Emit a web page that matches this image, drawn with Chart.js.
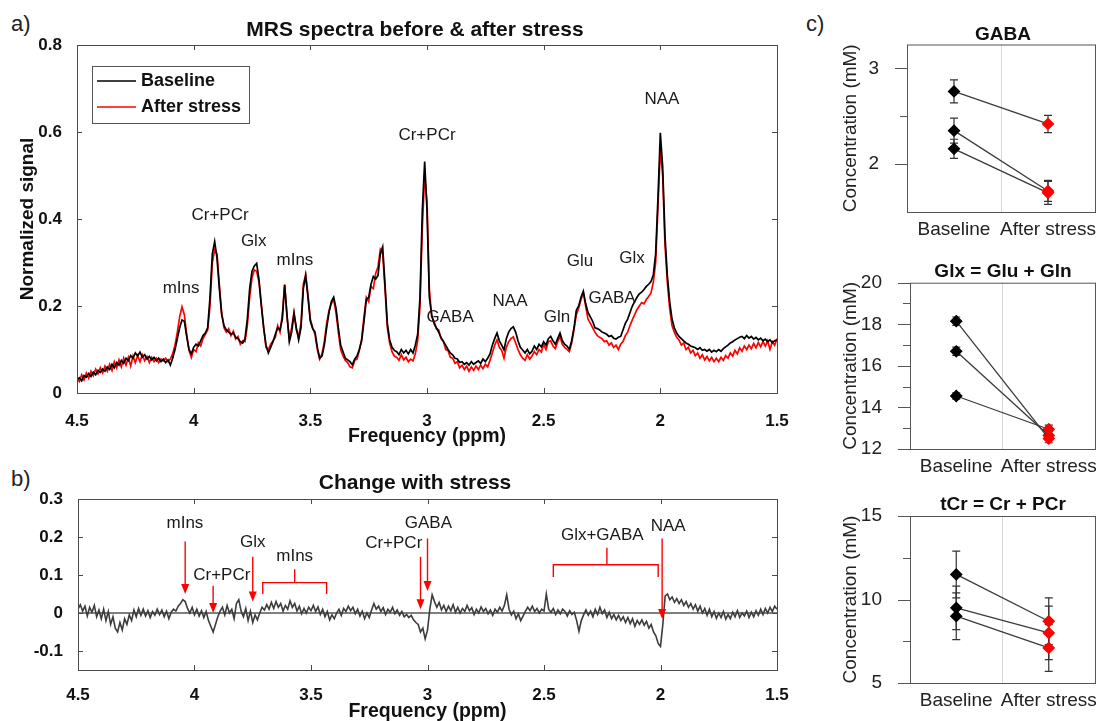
<!DOCTYPE html>
<html>
<head>
<meta charset="utf-8">
<title>MRS spectra</title>
<script src="https://cdn.jsdelivr.net/npm/chart.js@4.4.1/dist/chart.umd.min.js"></script>
<style>
  body { margin: 0; width: 1101px; height: 721px; overflow: hidden; background: #fff; position: relative; }
  canvas { position: absolute; }
  .tag { position: absolute; font: 22px/22px "Liberation Sans", Arial, sans-serif; color: #222; }
</style>
</head>
<body>
<div class="tag" style="left:11px;top:13px">a)</div>
<div class="tag" style="left:11px;top:468px">b)</div>
<div class="tag" style="left:806px;top:13px">c)</div>

<canvas id="spectra" width="830" height="455" style="left:0;top:0"></canvas>
<canvas id="change" width="830" height="261" style="left:0;top:460px"></canvas>
<canvas id="gaba" width="406" height="250" style="left:800px;top:0"></canvas>
<canvas id="glx" width="406" height="250" style="left:800px;top:240px"></canvas>
<canvas id="tcr" width="406" height="251" style="left:800px;top:470px"></canvas>

<script>
const FONT = '"Liberation Sans", Arial, sans-serif';

// spectra sampled every 0.01 ppm from 4.50 down to 1.50
const baseline = [
  0.030,0.035,0.028,0.040,0.036,0.045,0.038,0.048,0.042,0.052,
  0.047,0.055,0.050,0.060,0.054,0.066,0.058,0.070,0.064,0.075,
  0.068,0.080,0.074,0.086,0.080,0.092,0.085,0.094,0.082,0.088,
  0.078,0.084,0.076,0.082,0.074,0.080,0.072,0.078,0.070,0.076,
  0.064,0.080,0.100,0.125,0.150,0.168,0.165,0.130,0.100,0.090,
  0.105,0.112,0.108,0.120,0.132,0.138,0.150,0.220,0.320,0.348,
  0.310,0.240,0.180,0.155,0.145,0.140,0.135,0.138,0.128,0.125,
  0.118,0.115,0.125,0.170,0.240,0.280,0.292,0.298,0.260,0.200,
  0.150,0.110,0.092,0.105,0.118,0.135,0.150,0.145,0.170,0.248,
  0.180,0.118,0.140,0.183,0.150,0.122,0.150,0.240,0.270,0.220,
  0.165,0.148,0.140,0.105,0.080,0.085,0.110,0.150,0.185,0.210,
  0.220,0.195,0.150,0.110,0.095,0.080,0.076,0.072,0.065,0.078,
  0.085,0.100,0.120,0.165,0.215,0.220,0.250,0.268,0.262,0.270,
  0.320,0.336,0.250,0.160,0.122,0.105,0.098,0.095,0.088,0.100,
  0.092,0.098,0.090,0.100,0.092,0.110,0.135,0.220,0.420,0.532,
  0.420,0.220,0.180,0.160,0.150,0.140,0.128,0.118,0.110,0.100,
  0.092,0.088,0.080,0.078,0.070,0.072,0.066,0.070,0.064,0.072,
  0.066,0.070,0.074,0.068,0.078,0.072,0.080,0.090,0.110,0.125,
  0.138,0.120,0.110,0.099,0.125,0.140,0.148,0.152,0.140,0.120,
  0.105,0.099,0.092,0.100,0.090,0.096,0.108,0.100,0.112,0.106,
  0.118,0.110,0.125,0.130,0.120,0.112,0.125,0.138,0.120,0.112,
  0.108,0.100,0.120,0.150,0.190,0.200,0.220,0.234,0.205,0.185,
  0.175,0.165,0.150,0.148,0.145,0.140,0.138,0.135,0.130,0.132,
  0.126,0.124,0.128,0.130,0.145,0.160,0.170,0.185,0.200,0.210,
  0.220,0.228,0.232,0.238,0.245,0.250,0.256,0.272,0.320,0.450,
  0.598,0.520,0.360,0.270,0.210,0.170,0.150,0.138,0.130,0.125,
  0.120,0.115,0.112,0.108,0.106,0.104,0.100,0.104,0.098,0.100,
  0.096,0.100,0.094,0.098,0.095,0.100,0.096,0.102,0.106,0.110,
  0.115,0.118,0.122,0.125,0.128,0.130,0.125,0.132,0.126,0.130,
  0.124,0.128,0.122,0.126,0.120,0.124,0.118,0.122,0.116,0.120,
  0.122
];
const afterStress = [
  0.032,0.026,0.042,0.030,0.046,0.034,0.050,0.040,0.055,0.044,
  0.058,0.046,0.062,0.050,0.066,0.052,0.072,0.058,0.076,0.060,
  0.080,0.064,0.082,0.062,0.085,0.070,0.086,0.072,0.088,0.074,
  0.084,0.070,0.082,0.072,0.080,0.070,0.078,0.074,0.080,0.072,
  0.078,0.090,0.110,0.140,0.175,0.198,0.180,0.135,0.098,0.082,
  0.100,0.095,0.115,0.108,0.125,0.135,0.145,0.200,0.300,0.329,
  0.320,0.250,0.185,0.150,0.140,0.148,0.132,0.142,0.124,0.130,
  0.112,0.120,0.118,0.155,0.220,0.265,0.283,0.280,0.255,0.205,
  0.150,0.105,0.100,0.112,0.120,0.128,0.155,0.140,0.180,0.250,
  0.175,0.125,0.150,0.185,0.145,0.130,0.160,0.250,0.272,0.225,
  0.170,0.150,0.135,0.100,0.078,0.090,0.118,0.160,0.190,0.205,
  0.215,0.185,0.140,0.100,0.085,0.075,0.070,0.060,0.058,0.075,
  0.078,0.098,0.125,0.175,0.220,0.210,0.245,0.240,0.275,0.290,
  0.330,0.320,0.240,0.150,0.115,0.095,0.085,0.082,0.075,0.088,
  0.076,0.082,0.072,0.078,0.074,0.090,0.120,0.200,0.380,0.501,
  0.440,0.240,0.175,0.165,0.148,0.145,0.125,0.120,0.100,0.098,
  0.082,0.080,0.068,0.072,0.058,0.064,0.054,0.062,0.050,0.060,
  0.052,0.062,0.054,0.064,0.056,0.066,0.060,0.075,0.092,0.110,
  0.122,0.105,0.098,0.080,0.105,0.118,0.125,0.129,0.115,0.100,
  0.088,0.080,0.075,0.088,0.078,0.085,0.095,0.088,0.100,0.094,
  0.112,0.100,0.118,0.120,0.108,0.102,0.118,0.130,0.112,0.105,
  0.100,0.095,0.115,0.145,0.180,0.195,0.215,0.230,0.200,0.170,
  0.160,0.150,0.140,0.132,0.128,0.125,0.118,0.120,0.110,0.115,
  0.105,0.110,0.100,0.112,0.118,0.132,0.140,0.155,0.168,0.180,
  0.192,0.200,0.208,0.205,0.215,0.222,0.230,0.255,0.300,0.430,
  0.559,0.500,0.340,0.255,0.195,0.155,0.140,0.128,0.122,0.110,
  0.115,0.100,0.105,0.092,0.098,0.086,0.092,0.080,0.088,0.076,
  0.084,0.074,0.082,0.072,0.080,0.072,0.082,0.075,0.086,0.080,
  0.092,0.085,0.098,0.090,0.104,0.096,0.108,0.100,0.110,0.102,
  0.114,0.104,0.116,0.106,0.118,0.108,0.120,0.100,0.118,0.110,
  0.125
];
const change = [
  0.010,0.022,0.005,0.018,-0.008,0.015,0.002,0.020,-0.010,0.008,
  -0.015,0.010,-0.020,0.004,-0.030,-0.010,-0.040,-0.050,-0.025,-0.045,
  -0.015,-0.030,-0.005,-0.020,0.008,-0.010,0.012,-0.006,0.010,-0.008,
  0.006,-0.012,0.004,-0.006,0.010,-0.004,0.008,-0.010,0.005,-0.015,
  0.002,0.010,0.005,0.018,0.025,0.035,0.030,0.012,0.000,0.015,
  -0.005,0.010,-0.008,0.006,-0.012,0.004,-0.020,-0.035,-0.050,-0.030,
  -0.010,0.005,0.015,-0.005,0.020,0.000,0.010,-0.015,0.025,0.035,
  0.005,-0.010,0.012,-0.020,0.005,-0.025,-0.005,-0.018,0.000,0.015,
  0.008,0.022,0.010,0.028,0.012,0.030,0.015,0.025,0.005,0.020,
  0.010,0.032,0.015,0.025,0.005,0.018,-0.002,0.012,0.000,0.015,
  0.006,0.020,0.004,0.016,-0.004,0.010,-0.010,0.004,-0.018,-0.005,
  -0.015,0.000,0.010,-0.006,0.012,0.004,0.018,0.006,0.015,-0.002,
  0.010,-0.008,0.005,-0.015,0.000,-0.012,0.008,0.025,0.010,0.018,
  0.004,0.014,-0.004,0.010,0.002,0.015,-0.002,0.008,-0.006,0.004,
  -0.010,-0.004,-0.012,-0.006,-0.018,-0.025,-0.030,-0.050,-0.040,-0.068,
  -0.045,0.010,0.048,0.030,0.015,0.028,0.008,0.020,0.004,0.018,
  0.006,0.022,0.002,0.015,0.000,0.012,0.004,0.020,0.006,0.014,
  -0.004,0.010,0.000,0.016,0.004,0.012,-0.002,0.008,-0.006,0.010,
  0.002,0.015,0.005,0.020,0.048,0.010,-0.005,0.005,-0.015,-0.002,
  -0.020,-0.008,0.004,0.015,0.006,0.018,0.004,0.012,0.000,0.010,
  0.005,0.050,0.010,0.002,0.012,-0.004,0.008,-0.002,0.010,0.004,
  -0.008,0.006,-0.004,0.002,-0.020,-0.048,-0.020,-0.005,0.008,-0.006,
  0.005,-0.010,0.010,-0.004,0.015,-0.002,0.008,-0.012,0.002,-0.015,
  -0.004,-0.018,-0.006,-0.020,-0.010,-0.025,-0.012,-0.028,-0.015,-0.035,
  -0.020,-0.030,-0.018,-0.032,-0.022,-0.040,-0.030,-0.050,-0.060,-0.080,
  -0.088,-0.030,0.045,0.050,0.035,0.042,0.028,0.038,0.025,0.035,
  0.020,0.030,0.015,0.025,0.010,0.022,0.005,0.018,0.000,0.012,
  -0.006,0.010,-0.010,0.004,-0.014,0.000,-0.012,0.004,-0.016,-0.004,
  -0.015,0.002,-0.010,0.006,-0.012,0.000,-0.008,0.005,-0.012,0.002,
  -0.010,0.006,-0.006,0.010,-0.004,0.012,0.000,0.015,0.004,0.018,
  0.010
];
const ppm = baseline.map((_, i) => +(4.5 - i * 0.01).toFixed(2));

const ppmTicks = [4.5, 4, 3.5, 3, 2.5, 2, 1.5];
const signalTicks = [0, 0.2, 0.4, 0.6, 0.8];
const changeTicks = [-0.1, 0, 0.1, 0.2, 0.3];

// concentrations: one entry per subject, baseline / after stress, with errors
const groups = ['Baseline', 'After stress'];
const gabaBase = [2.76, 2.35, 2.16];
const gabaAfter = [2.42, 1.72, 1.70];
const gabaErrBase = [0.12, 0.13, 0.10];
const gabaErrAfter = [0.09, 0.11, 0.12];
const glxBase = [18.15, 16.7, 14.55];
const glxAfter = [12.5, 12.65, 12.95];
const glxErrBase = [0.2, 0.2, 0.15];
const glxErrAfter = [0.2, 0.2, 0.2];
const tcrBase = [11.5, 9.5, 9.0];
const tcrAfter = [8.7, 8.0, 7.1];
const tcrErrBase = [1.4, 1.3, 1.4];
const tcrErrAfter = [1.4, 1.6, 1.4];

// peak names on the spectra [text, ppm, signal]
const spectraNotes = [
  ['mIns', 4.054, 0.241], ['Cr+PCr', 3.887, 0.409], ['Glx', 3.743, 0.348],
  ['mIns', 3.566, 0.306], ['Cr+PCr', 3.0, 0.593], ['GABA', 2.901, 0.175],
  ['NAA', 2.644, 0.21], ['Gln', 2.443, 0.175], ['Glu', 2.344, 0.302],
  ['GABA', 2.207, 0.218], ['Glx', 2.121, 0.31], ['NAA', 1.993, 0.674]
];
const changeNotes = [
  ['mIns', 4.041, 0.236], ['Cr+PCr', 3.883, 0.10], ['Glx', 3.75, 0.186],
  ['mIns', 3.57, 0.148], ['Cr+PCr', 3.145, 0.183], ['GABA', 2.996, 0.236],
  ['Glx+GABA', 2.25, 0.204], ['NAA', 1.967, 0.228]
];
// arrows [ppm, from, to] and brackets [ppm1, ppm2, level, ends, stem ppm, stem top]
const changeArrows = [[4.04, 0.188, 0.05], [3.92, 0.072, 0.0], [3.75, 0.148, 0.03],
  [3.03, 0.148, 0.01], [3.0, 0.196, 0.058], [1.993, 0.196, -0.016]];
const changeBrackets = [[3.707, 3.433, 0.08, 0.05, 3.57, 0.115],
  [2.46, 2.01, 0.127, 0.095, 2.23, 0.172]];

Chart.defaults.font.family = FONT;

// box around the plot area, with tick marks
const frame = {
  id: 'frame',
  afterDraw(chart, args, o) {
    const {ctx, chartArea: a, scales: {x, y}} = chart;
    ctx.save();
    ctx.strokeStyle = o.color;
    ctx.lineWidth = 1;
    ctx.strokeRect(a.left + 0.5, a.top + 0.5, a.right - a.left, a.bottom - a.top);
    ctx.beginPath();
    if (o.inward) {
      o.xTicks.forEach(v => {
        const px = Math.round(x.getPixelForValue(v)) + 0.5;
        ctx.moveTo(px, a.bottom); ctx.lineTo(px, a.bottom - o.len);
        ctx.moveTo(px, a.top); ctx.lineTo(px, a.top + o.len);
      });
      o.yTicks.forEach(v => {
        const py = Math.round(y.getPixelForValue(v)) + 0.5;
        ctx.moveTo(a.left, py); ctx.lineTo(a.left + o.len, py);
        ctx.moveTo(a.right, py); ctx.lineTo(a.right - o.len, py);
      });
    } else {
      o.yTicks.forEach(v => {
        const py = Math.round(y.getPixelForValue(v)) + 0.5;
        ctx.moveTo(a.left, py); ctx.lineTo(a.left - o.len, py);
      });
      o.yMinor.forEach(v => {
        const py = Math.round(y.getPixelForValue(v)) + 0.5;
        ctx.moveTo(a.left, py); ctx.lineTo(a.left - o.minorLen, py);
      });
    }
    ctx.stroke();
    ctx.restore();
  }
};

// peak labels, arrows and brackets
const notes = {
  id: 'notes',
  afterDatasetsDraw(chart, args, o) {
    const {ctx, scales: {x, y}} = chart;
    ctx.save();
    ctx.font = o.size + 'px ' + FONT;
    ctx.fillStyle = '#1a1a1a';
    ctx.textAlign = 'center';
    ctx.textBaseline = 'middle';
    o.labels.forEach(([t, p, v]) => ctx.fillText(t, x.getPixelForValue(p), y.getPixelForValue(v)));
    ctx.strokeStyle = '#ff0000';
    ctx.fillStyle = '#ff0000';
    ctx.lineWidth = 1.4;
    (o.arrows || []).forEach(([p, from, to]) => {
      const px = x.getPixelForValue(p), y1 = y.getPixelForValue(from), y2 = y.getPixelForValue(to);
      ctx.beginPath(); ctx.moveTo(px, y1); ctx.lineTo(px, y2 - 8); ctx.stroke();
      ctx.beginPath(); ctx.moveTo(px - 4, y2 - 10); ctx.lineTo(px + 4, y2 - 10); ctx.lineTo(px, y2); ctx.closePath(); ctx.fill();
    });
    (o.brackets || []).forEach(([p1, p2, lv, end, sp, top]) => {
      const x1 = x.getPixelForValue(p1), x2 = x.getPixelForValue(p2), xs = x.getPixelForValue(sp);
      const yl = y.getPixelForValue(lv), ye = y.getPixelForValue(end), yt = y.getPixelForValue(top);
      ctx.beginPath();
      ctx.moveTo(x1, ye); ctx.lineTo(x1, yl); ctx.lineTo(x2, yl); ctx.lineTo(x2, ye);
      ctx.moveTo(xs, yl); ctx.lineTo(xs, yt);
      ctx.stroke();
    });
    ctx.restore();
  }
};

const legendBox = {
  id: 'legendBox',
  afterDatasetsDraw(chart, args, o) {
    const {ctx, chartArea: a} = chart;
    const x = a.left + o.x, y = a.top + o.y;
    ctx.save();
    ctx.fillStyle = '#fff';
    ctx.fillRect(x, y, o.w, o.h);
    ctx.strokeStyle = '#555';
    ctx.lineWidth = 1;
    ctx.strokeRect(x + 0.5, y + 0.5, o.w, o.h);
    ctx.font = 'bold 18px ' + FONT;
    ctx.textBaseline = 'middle';
    chart.data.datasets.forEach((ds, i) => {
      const ly = y + o.first + i * o.gap;
      ctx.strokeStyle = ds.borderColor;
      ctx.lineWidth = 1.5;
      ctx.beginPath(); ctx.moveTo(x + 5, ly); ctx.lineTo(x + 44, ly); ctx.stroke();
      ctx.fillStyle = '#111';
      ctx.fillText(ds.label, x + 49, ly);
    });
    ctx.restore();
  }
};

const errorBars = {
  id: 'errorBars',
  beforeDatasetsDraw(chart) {
    const {ctx, scales: {y}} = chart;
    ctx.save();
    ctx.strokeStyle = '#333';
    ctx.lineWidth = 1.2;
    chart.data.datasets.forEach((ds, i) => {
      chart.getDatasetMeta(i).data.forEach((pt, j) => {
        const v = ds.data[j], e = ds.errors[j];
        const t = y.getPixelForValue(v + e), b = y.getPixelForValue(v - e);
        ctx.beginPath();
        ctx.moveTo(pt.x, t); ctx.lineTo(pt.x, b);
        ctx.moveTo(pt.x - 4, t); ctx.lineTo(pt.x + 4, t);
        ctx.moveTo(pt.x - 4, b); ctx.lineTo(pt.x + 4, b);
        ctx.stroke();
      });
    });
    ctx.restore();
  }
};

// empty right-hand axis that only reserves space
function spacer(w) {
  return {type: 'linear', position: 'right', display: true, grid: {display: false},
    border: {display: false}, ticks: {display: false}, afterFit: s => { s.width = w; }};
}

const boldTicks = {color: '#111', font: {size: 17, weight: 'bold'}};

function ppmAxis(pad, h, titlePad) {
  return {
    type: 'linear', reverse: true, min: 1.5, max: 4.5,
    afterBuildTicks: s => { s.ticks = ppmTicks.map(v => ({value: v})); },
    afterFit: s => { s.height = h; },
    grid: {display: false}, border: {display: false},
    ticks: {...boldTicks, padding: pad, maxRotation: 0, callback: v => String(v)},
    title: {display: true, text: 'Frequency (ppm)', color: '#111',
      font: {size: 19.5, weight: 'bold', lineHeight: 1}, padding: {top: 0, bottom: titlePad}}
  };
}

new Chart(document.getElementById('spectra'), {
  type: 'line',
  data: {
    datasets: [
      {label: 'Baseline', data: baseline.map((v, i) => ({x: ppm[i], y: v})),
        borderColor: '#000', borderWidth: 1.7, pointRadius: 0, yAxisID: 'y'},
      {label: 'After stress', data: afterStress.map((v, i) => ({x: ppm[i], y: v})),
        borderColor: '#ff0000', borderWidth: 1.7, pointRadius: 0, yAxisID: 'y'}
    ]
  },
  options: {
    animation: false, responsive: false,
    layout: {padding: 0},
    plugins: {
      legend: {display: false}, tooltip: {enabled: false},
      title: {display: true, text: 'MRS spectra before & after stress', color: '#111',
        font: {size: 21, weight: 'bold', lineHeight: 1}, padding: {top: 19.5, bottom: 4.5}},
      frame: {color: '#4a4a4a', inward: true, len: 5, xTicks: ppmTicks, yTicks: signalTicks},
      notes: {size: 17, labels: spectraNotes},
      legendBox: {x: 15, y: 21, w: 157, h: 57, first: 15, gap: 26}
    },
    scales: {
      x: ppmAxis(9.8, 62, 8.5),
      y: {
        min: 0, max: 0.8,
        afterBuildTicks: s => { s.ticks = signalTicks.map(v => ({value: v})); },
        afterFit: s => { s.width = 77; },
        grid: {display: false}, border: {display: false},
        ticks: {...boldTicks, padding: 7, callback: v => String(v)},
        title: {display: true, text: 'Normalized signal', color: '#111',
          font: {size: 19, weight: 'bold', lineHeight: 1}, padding: {top: 18, bottom: 0}}
      },
      r: spacer(53)
    }
  },
  plugins: [frame, notes, legendBox]
});

new Chart(document.getElementById('change'), {
  type: 'line',
  data: {
    datasets: [
      {label: 'Change', data: change.map((v, i) => ({x: ppm[i], y: v})),
        borderColor: '#3c3c3c', borderWidth: 1.6, pointRadius: 0, yAxisID: 'y'},
      {label: 'Zero', data: [{x: 4.5, y: 0}, {x: 1.5, y: 0}],
        borderColor: '#000', borderWidth: 1, pointRadius: 0, yAxisID: 'y'}
    ]
  },
  options: {
    animation: false, responsive: false,
    layout: {padding: 0},
    plugins: {
      legend: {display: false}, tooltip: {enabled: false},
      title: {display: true, text: 'Change with stress', color: '#111',
        font: {size: 21, weight: 'bold', lineHeight: 1}, padding: {top: 12.5, bottom: 5.5}},
      frame: {color: '#4a4a4a', inward: true, len: 5, xTicks: ppmTicks, yTicks: changeTicks},
      notes: {size: 17, labels: changeNotes, arrows: changeArrows, brackets: changeBrackets}
    },
    scales: {
      x: ppmAxis(6.8, 51, 0),
      y: {
        min: -0.15, max: 0.3,
        afterBuildTicks: s => { s.ticks = changeTicks.map(v => ({value: v})); },
        afterFit: s => { s.width = 78; },
        grid: {display: false}, border: {display: false},
        ticks: {...boldTicks, padding: 7, callback: v => String(v)}
      },
      r: spacer(53)
    }
  },
  plugins: [frame, notes]
});

function concChart(id, title, base, after, errBase, errAfter, range, ticks, minor, box) {
  new Chart(document.getElementById(id), {
    type: 'line',
    data: {
      labels: groups,
      datasets: base.map((b, i) => ({
        data: [b, after[i]],
        errors: [errBase[i], errAfter[i]],
        yAxisID: 'y',
        borderColor: '#3a3a3a', borderWidth: 1.3,
        pointStyle: 'rectRot', pointRadius: 5.5,
        pointBackgroundColor: ['#000', '#ff0000'],
        pointBorderColor: ['#000', '#ff0000']
      }))
    },
    options: {
      animation: false, responsive: false,
      layout: {padding: {left: 0, right: 0, top: box.titleY - 9.5, bottom: 0}},
      plugins: {
        legend: {display: false}, tooltip: {enabled: false},
        title: {display: true, text: title, color: '#111',
          font: {size: 19, weight: 'bold', lineHeight: 1}, padding: {top: 0, bottom: box.gap}},
        frame: {color: '#555', inward: false, len: 12, minorLen: 7, yTicks: ticks, yMinor: minor}
      },
      scales: {
        x: {
          type: 'category', offset: true,
          grid: {color: '#d8d8d8', drawTicks: false, offset: true},
          border: {display: false},
          ticks: {color: '#222', font: {size: 19}, padding: 6.6,
            autoSkip: false, maxRotation: 0, minRotation: 0},
          afterFit: s => { s.height = box.xh; }
        },
        y: {
          min: range[0], max: range[1],
          afterBuildTicks: s => { s.ticks = ticks.map(v => ({value: v})); },
          afterFit: s => { s.width = box.yw; },
          grid: {display: false}, border: {display: false},
          ticks: {color: '#222', font: {size: 19}, padding: 20, callback: v => String(v)},
          title: {display: true, text: 'Concentration (mM)', color: '#222',
            font: {size: 19, lineHeight: 1}, padding: {top: 41.5, bottom: 0}}
        },
        r: spacer(111)
      }
    },
    plugins: [frame, errorBars]
  });
}

concChart('gaba', 'GABA', gabaBase, gabaAfter, gabaErrBase, gabaErrAfter,
  [1.5, 3.25], [2, 3], [2.5], {titleY: 35, gap: 0, xh: 38, yw: 107});
concChart('glx', 'Glx = Glu + Gln', glxBase, glxAfter, glxErrBase, glxErrAfter,
  [12, 20], [12, 14, 16, 18, 20], [13, 15, 17, 19], {titleY: 31.7, gap: 1.5, xh: 41, yw: 110});
concChart('tcr', 'tCr = Cr + PCr', tcrBase, tcrAfter, tcrErrBase, tcrErrAfter,
  [5, 15], [5, 10, 15], [7.5, 12.5], {titleY: 35, gap: 1.5, xh: 38, yw: 110});
</script>
</body>
</html>
